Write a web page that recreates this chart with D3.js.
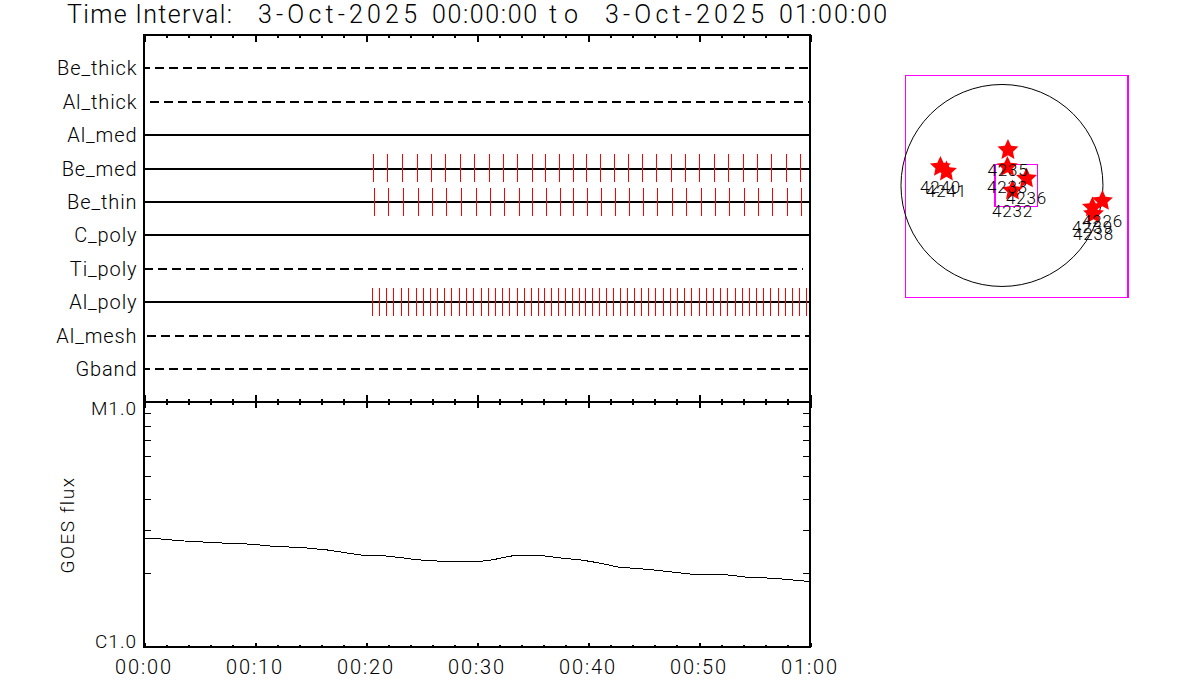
<!DOCTYPE html>
<html>
<head>
<meta charset="utf-8">
<script src="https://cdn.jsdelivr.net/npm/d3@7/dist/d3.min.js"></script>
<style>
html,body{margin:0;padding:0;background:#fff}
svg{display:block}
text{font-family:"Roboto","Liberation Sans",sans-serif;font-weight:300;fill:#000;white-space:pre}
</style>
</head>
<body>
<svg id="c" width="1200" height="700"></svg>
<script>
const titleParts = ["Time Interval:","3-Oct-2025","00:00:00","to","3-Oct-2025","01:00:00"];
const channels = ["Be_thick","Al_thick","Al_med","Be_med","Be_thin","C_poly","Ti_poly","Al_poly","Al_mesh","Gband"];
const channelStatus = ["none","none","data","data","data","data","none","data","none","none"];
const channelStart = [0.04,0.54,0,0,0,0,0.04,0,0.27,0.04];
const channelEnd = [60,60,60,60,60,60,59.35,60,59.9,59.9];

const beMedTimes = [20.68,21.94,23.29,24.64,25.90,27.16,28.51,29.77,31.13,32.39,33.65,35.00,36.17,37.43,38.69,39.86,41.13,42.39,43.65,44.91,46.17,47.52,48.78,50.05,51.40,52.66,54.01,55.27,56.53,57.88,59.14];
const beThinTimes = [20.77,22.03,23.38,24.73,25.99,27.25,28.60,29.95,31.22,32.48,33.83,35.00,36.26,37.52,38.69,39.95,41.22,42.48,43.74,45.00,46.26,47.61,48.87,50.23,51.49,52.75,54.10,55.36,56.62,57.97,59.23];
const alPolyTimes = [20.59,21.22,21.85,22.48,23.20,23.83,24.55,25.18,25.81,26.44,27.07,27.70,28.42,29.05,29.68,30.41,31.04,31.67,32.30,32.93,33.65,34.28,34.91,35.54,36.08,36.71,37.34,37.97,38.60,39.23,39.77,40.41,41.04,41.67,42.30,42.93,43.56,44.19,44.82,45.45,46.08,46.80,47.43,48.06,48.69,49.32,50.05,50.68,51.31,51.94,52.57,53.29,53.92,54.55,55.18,55.81,56.44,57.16,57.79,58.42,59.05,59.68];

const goesMinutes = [0,1.5,3.51,5.5,7.57,9.55,11.53,14.5,16.49,18.83,19.64,21.53,23.33,24.59,26.67,30.45,31.44,32.79,33.6,35.5,37.48,39.55,41.08,42.7,45.59,49.46,52.52,54.59,56.67,60];
const goesFlux = [2.78,2.76,2.71,2.68,2.65,2.63,2.58,2.54,2.49,2.40,2.37,2.36,2.31,2.27,2.24,2.24,2.27,2.34,2.37,2.37,2.31,2.26,2.20,2.12,2.07,1.98,1.97,1.92,1.91,1.85];

const majorMinutes = [0,10,20,30,40,50,60];
const majorLabels = ["00:00","00:10","00:20","00:30","00:40","00:50","01:00"];
const minorMinutes = [2,4,6,8,12,14,16,18,22,24,26,28,32,34,36,38,42,44,46,48,52,54,56,58];
const fluxTicks = [1,2,3,4,5,6,7,8,9,10];
const fluxLabelValues = [1,10];
const fluxLabels = ["C1.0","M1.0"];

const regions = ["4235","4233","4236","4232","4240","4241","4226","4239","4238"];
const regionX = [57,52,233,100,-585,-528,955,860,870];
const regionY = [337,176,67,-48,176,133,-147,-209,-271];
const fovX = [-62,333];
const fovY = [-204,195];
const solarRadius = 960;
const mapDomainX = [-917,1198];
const mapDomainY = [-1060,1050];

// ---- layout and style ----
const L = 144, R = 810, T = 35, M = 402, B = 647;
const titleSpans = [[67,165],[258,159],[432,105],[549,29],[605,159],[779,108]];
const dashOffset = {Be_thick:3.5, Al_thick:0, Ti_poly:0, Al_mesh:0, Gband:3};
const svg = d3.select("#c");
const x = d3.scaleLinear().domain([0,60]).range([L,R]);
const rowY = d3.scaleLinear().domain([0,11]).range([T,M+0.4]);
const y = d3.scaleLog().domain([1,10]).range([B,M]);
const crisp = g => g.attr("shape-rendering","crispEdges");

const title = svg.append("text").attr("y",23).attr("font-size",25);
titleParts.forEach((p,i)=>{
  title.append("tspan").attr("x",titleSpans[i][0]).attr("textLength",titleSpans[i][1])
    .attr("lengthAdjust","spacing").text(p);
  if(i<titleParts.length-1) title.node().appendChild(document.createTextNode(" "));
});

// channel rows
const rows = svg.append("g").call(crisp);
channels.forEach((c,i)=>{
  const line = rows.append("line")
    .attr("x1",x(channelStart[i])).attr("x2",x(channelEnd[i]))
    .attr("y1",rowY(i+1)).attr("y2",rowY(i+1))
    .attr("stroke","#000").attr("stroke-width",2);
  if(channelStatus[i]==="none") line.attr("stroke-dasharray","9 5").attr("stroke-dashoffset",dashOffset[c]);
});
[["Be_med",beMedTimes],["Be_thin",beThinTimes],["Al_poly",alPolyTimes]].forEach(([c,times])=>{
  const i = channels.indexOf(c);
  rows.selectAll(null).data(times).join("line")
    .attr("x1",d=>x(d)).attr("x2",d=>x(d))
    .attr("y1",rowY(i+1)-14.3).attr("y2",rowY(i+1)+13.6)
    .attr("stroke","#f00").attr("stroke-width",1);
});
svg.append("g").selectAll("text").data(channels).join("text")
  .attr("x",137.5).attr("y",(d,i)=>rowY(i+1)+7).attr("text-anchor","end")
  .attr("font-size",20).attr("letter-spacing",0.9).text(d=>d);

// GOES curve
const goes = d3.line().x(d=>x(d[0])).y(d=>y(d[1]));
crisp(svg.append("path").datum(goesMinutes.map((m,i)=>[m,goesFlux[i]]))
  .attr("d",goes).attr("fill","none").attr("stroke","#000").attr("stroke-width",1));

// tick marks through d3 axes
function ticks(axis, values, size, tx, ty){
  const g = svg.append("g").attr("transform",`translate(${tx},${ty})`)
    .call(axis.tickValues(values).tickSize(size).tickFormat(""));
  g.select(".domain").remove();
  g.selectAll("line").attr("stroke","#000");
  g.selectAll("text").remove();
  crisp(g);
  return g;
}
ticks(d3.axisBottom(x),minorMinutes,3,0,T).selectAll("line").attr("stroke-width",2);
ticks(d3.axisBottom(x),majorMinutes,7,0,T).selectAll("line").attr("stroke-width",2);
ticks(d3.axisTop(x),minorMinutes,3,0,M).selectAll("line").attr("stroke-width",2);
ticks(d3.axisTop(x),majorMinutes,7,0,M).selectAll("line").attr("stroke-width",2);
ticks(d3.axisBottom(x),minorMinutes,3,0,M).selectAll("line").attr("stroke-width",2);
ticks(d3.axisBottom(x),majorMinutes,6,0,M).selectAll("line").attr("stroke-width",2);
ticks(d3.axisTop(x),minorMinutes,2,0,B).selectAll("line").attr("stroke-width",2);
ticks(d3.axisTop(x),majorMinutes,4,0,B).selectAll("line").attr("stroke-width",2);
ticks(d3.axisRight(y),fluxTicks,7,L,0);
ticks(d3.axisLeft(y),fluxTicks,7,R,0);

// frames
crisp(svg.append("rect").attr("x",L).attr("y",T).attr("width",R-L).attr("height",B-T)
  .attr("fill","none").attr("stroke","#000").attr("stroke-width",2));
crisp(svg.append("line").attr("x1",L).attr("x2",R).attr("y1",M).attr("y2",M)
  .attr("stroke","#000").attr("stroke-width",2));

// axis labels
svg.append("g").selectAll("text").data(majorMinutes).join("text")
  .attr("x",d=>x(d)).attr("y",674).attr("text-anchor","middle")
  .attr("font-size",20).attr("letter-spacing",1.9).text((d,i)=>majorLabels[i]);
svg.append("g").selectAll("text").data(fluxLabelValues).join("text")
  .attr("x",137).attr("y",(d,i)=>i===0?648:415).attr("text-anchor","end")
  .attr("font-size",19).attr("letter-spacing",1).text((d,i)=>fluxLabels[i]);
svg.append("text").attr("transform","translate(74,525) rotate(-90)").attr("text-anchor","middle")
  .attr("font-size",19).attr("letter-spacing",1.6).text("GOES flux");

// locator map
const mx = d3.scaleLinear().domain(mapDomainX).range([905.5,1128]);
const my = d3.scaleLinear().domain(mapDomainY).range([297,75]);
crisp(svg.append("rect").attr("x",mx(mapDomainX[0])).attr("y",my(mapDomainY[1]))
  .attr("width",mx(mapDomainX[1])-mx(mapDomainX[0])).attr("height",my(mapDomainY[0])-my(mapDomainY[1]))
  .attr("fill","none").attr("stroke","#f0f").attr("stroke-width",1));
crisp(svg.append("line").attr("x1",mx(mapDomainX[1])).attr("x2",mx(mapDomainX[1]))
  .attr("y1",my(mapDomainY[1])).attr("y2",my(mapDomainY[0])).attr("stroke","#f0f").attr("stroke-width",2));
svg.append("circle").attr("cx",mx(0)).attr("cy",my(0)).attr("r",mx(solarRadius)-mx(0))
  .attr("fill","none").attr("stroke","#000").attr("stroke-width",1);
crisp(svg.append("rect").attr("x",mx(fovX[0])).attr("y",my(fovY[1]))
  .attr("width",mx(fovX[1])-mx(fovX[0])).attr("height",my(fovY[0])-my(fovY[1]))
  .attr("fill","none").attr("stroke","#f0f").attr("stroke-width",1));
crisp(svg.append("line").attr("x1",mx(fovX[0])).attr("x2",mx(fovX[0]))
  .attr("y1",my(fovY[1])).attr("y2",my(fovY[0])).attr("stroke","#f0f").attr("stroke-width",2));
const fatStar = {draw(ctx,size){
  const r = Math.sqrt(size);
  for(let k=0;k<10;k++){
    const rad = k%2 ? r*0.48 : r, a = -Math.PI/2 + k*Math.PI/5;
    const px = rad*Math.cos(a), py = rad*Math.sin(a);
    k ? ctx.lineTo(px,py) : ctx.moveTo(px,py);
  }
  ctx.closePath();
}};
const star = d3.symbol().type(fatStar).size(121);
svg.append("g").selectAll("path").data(regions).join("path")
  .attr("d",star).attr("fill","#f00")
  .attr("transform",(d,i)=>`translate(${mx(regionX[i])},${my(regionY[i])})`);
svg.append("g").selectAll("text").data(regions).join("text")
  .attr("x",(d,i)=>mx(regionX[i])).attr("y",(d,i)=>my(regionY[i])+26)
  .attr("text-anchor","middle").attr("font-size",17).attr("letter-spacing",0.8).text(d=>d);
</script>
</body>
</html>
